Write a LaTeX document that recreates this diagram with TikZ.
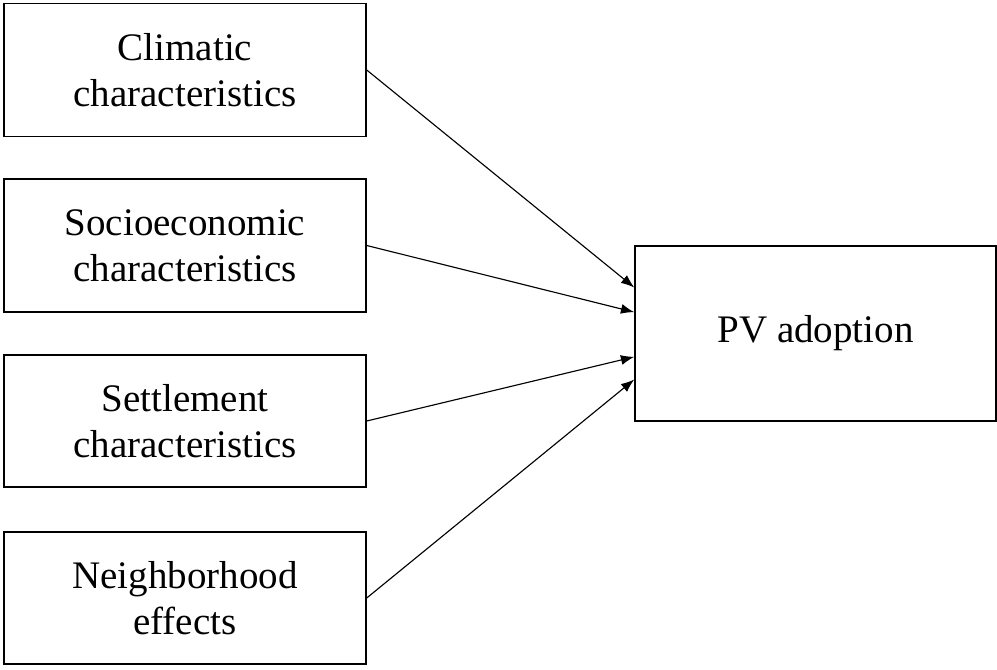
\documentclass[tikz,border=0pt]{standalone}
\usepackage{fontspec}
\setmainfont{Liberation Serif}
\usepackage{tikz}
\usetikzlibrary{arrows.meta}
\newcommand{\fact}[2]{#1\\#2}

\begin{document}
\begin{tikzpicture}[x=0.75pt,y=0.75pt,
    every node/.style={font=\fontsize{29.25}{34.5}\selectfont},
    box/.style={rectangle,draw=black,line width=1.1pt,align=center,inner sep=0pt}]
 \useasboundingbox (0,0) rectangle (997,669);

 \draw (185,599)  node[box,minimum width=271.5pt,minimum height=100pt] (CLIM)
              {\fact{Climatic}{characteristics}};

 \draw (185,423.5)  node[box,minimum width=271.5pt,minimum height=100pt] (SOC)
              {\fact{Socioeconomic}{characteristics}};

 \draw (185,248)  node[box,minimum width=271.5pt,minimum height=99pt] (SETT)
              {\fact{Settlement}{characteristics}};

 \draw (185,71)  node[box,minimum width=271.5pt,minimum height=99pt] (NEIGH)
              {\fact{Neighborhood}{effects}};

 \draw (815.5,335.5)  node[box,minimum width=270.75pt,minimum height=131.25pt] (PV)
              {PV adoption};

 \draw[-{Latex[length=10pt,width=7.5pt]},draw=black,line width=0.85pt] (CLIM.east) -- ([yshift=34.5pt]PV.west);

 \draw[-{Latex[length=10pt,width=7.5pt]},draw=black,line width=0.85pt] (SOC.east) -- ([yshift=16pt]PV.west);

 \draw[-{Latex[length=10pt,width=7.5pt]},draw=black,line width=0.85pt] (SETT.east) -- ([yshift=-17.5pt]PV.west);

 \draw[-{Latex[length=10pt,width=7.5pt]},draw=black,line width=0.85pt] (NEIGH.east) -- ([yshift=-34.5pt]PV.west);

\end{tikzpicture}
\end{document}
